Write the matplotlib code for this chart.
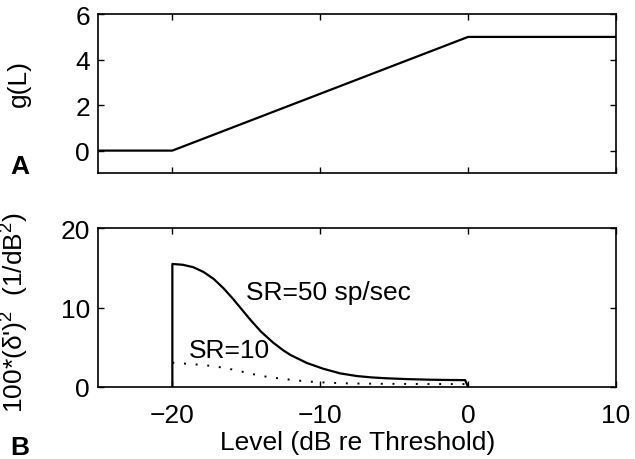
import matplotlib.pyplot as plt

plt.rcParams['font.family'] = ['Liberation Sans', 'DejaVu Sans']
plt.rcParams['mathtext.fontset'] = 'custom'
plt.rcParams['mathtext.rm'] = 'Liberation Sans'
plt.rcParams['mathtext.it'] = 'Liberation Sans'

# panel A: g(L)
level_a = [-25, -20, 0, 10]
g_vals = [0, 0, 5, 5]

# panel B: SR=50 sp/sec (solid)
level_50 = [-20, -20, -19.3, -18.6, -17.9, -17.2, -16.55, -15.9, -15.3,
            -14.7, -14.0, -13.2, -12.5, -12.0, -10.9, -9.8, -8.65,
            -7.5, -6.5, -5.5, -4.0, -2.5, -1.0, -0.2, 0]
d_50 = [0, 15.5, 15.4, 15.1, 14.5, 13.6, 12.45, 11.1, 9.75,
        8.4, 6.95, 5.6, 4.6, 4.0, 3.0, 2.28, 1.69,
        1.35, 1.18, 1.07, 0.96, 0.89, 0.85, 0.84, 0]

# panel B: SR=10 (dotted)
level_10 = [-20, -18.7, -17.9, -17.1, -16.3, -15.5, -14.7, -13.9, -13.2,
            -12.3, -11.6, -10.7, -9.8, -8.9, -8.0, -6.0, -3.0, 0]
d_10 = [3.04, 2.86, 2.74, 2.57, 2.32, 2.0, 1.65, 1.35, 1.15,
        0.95, 0.8, 0.65, 0.55, 0.48, 0.42, 0.38, 0.35, 0.34]

fs = 19
fig = plt.figure(figsize=(6.35, 4.6), dpi=100)
ax1 = fig.add_axes([0.155, 0.621, 0.815, 0.346])
ax2 = fig.add_axes([0.155, 0.157, 0.815, 0.3445])

for ax in (ax1, ax2):
    ax.tick_params(direction='in', top=True, right=True, length=4,
                   width=1.0, labelsize=fs)
    for s in ax.spines.values():
        s.set_linewidth(1.2)
    ax.set_xlim(-25, 10)
    ax.set_xticks([-20, -10, 0, 10])

ax1.plot(level_a, g_vals, color='black', lw=1.6)
ax1.set_ylim(-1, 6)
ax1.set_yticks([0, 2, 4, 6])
ax1.tick_params(labelbottom=False, pad=6)
ax1.set_ylabel('g(L)', fontsize=fs)
ax1.yaxis.set_label_coords(-0.13, 0.57)

ax2.plot(level_50, d_50, color='black', lw=1.6)
ax2.plot(level_10, d_10, color='black', lw=1.4, dashes=(1, 5))
ax2.set_ylim(0, 20)
ax2.set_yticks([0, 10, 20])
ax2.tick_params(axis='x', pad=12)
ax2.tick_params(axis='y', pad=6)
ax2.set_xticklabels(['\u221220', '\u221210', '0', '10'])
ax2.set_xlabel('Level (dB re Threshold)', fontsize=fs, labelpad=2)
ax2.set_ylabel("100*(\u03b4')$^2$  (1/dB$^2$)", fontsize=fs)
ax2.yaxis.set_label_coords(-0.13, 0.475)

ax2.text(-15.0, 12.0, 'SR=50 sp/sec', fontsize=fs, va='center', ha='left')
ax2.text(-18.9, 4.6, 'SR=10', fontsize=fs, va='center', ha='left')

fig.text(20 / 635, 1 - 167 / 460, 'A', fontsize=fs, fontweight='bold',
         ha='center', va='center')
fig.text(20 / 635, 1 - 448 / 460, 'B', fontsize=fs, fontweight='bold',
         ha='center', va='center')

fig.savefig('out.png', dpi=100)
